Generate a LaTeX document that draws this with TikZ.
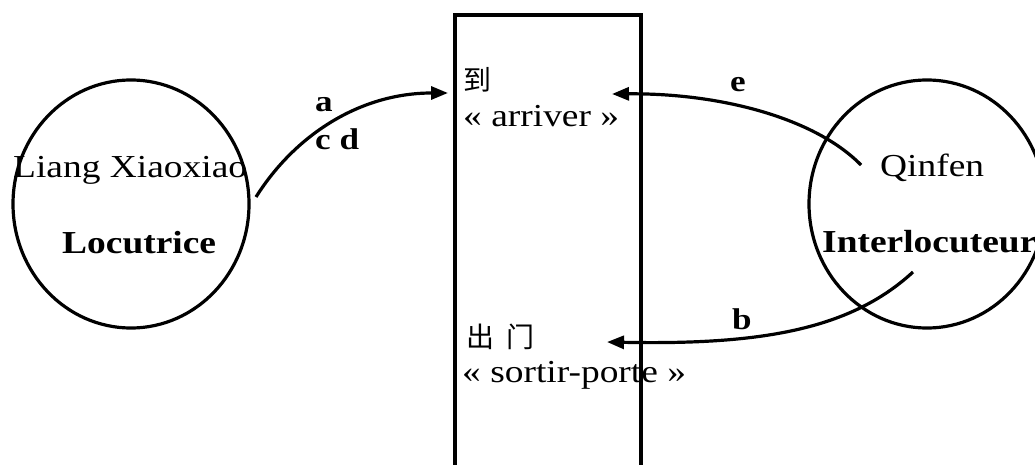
\documentclass[tikz,border=0pt]{standalone}
\usepackage{fontspec}
\setmainfont{Liberation Serif}[FakeStretch=1.17]
\newfontfamily\cjk{Noto Sans CJK SC}
\usetikzlibrary{arrows.meta,shapes.geometric}
\begin{document}
\begin{tikzpicture}[x=1pt,y=-1pt,
  txt/.style={anchor=base west,inner sep=0pt,font=\fontsize{32}{36}\selectfont},
  btxt/.style={txt,font=\fontsize{32}{36}\selectfont\bfseries},
  lbl/.style={anchor=base west,inner sep=0pt,font=\fontsize{30}{34}\selectfont\bfseries},
  zh/.style={anchor=base west,inner sep=0pt,font=\fontsize{28}{32}\selectfont\cjk},
  person/.style={ellipse,draw,line width=3.2pt,minimum width=236pt,minimum height=248pt,inner sep=0pt},
  arr/.style={line width=3.2pt,-{Triangle[length=17pt,width=13pt]}}]
\useasboundingbox (0,0) rectangle (1035,465);
\clip (0,0) rectangle (1035,465);
% central box
\node[draw,line width=3.6pt,minimum width=186pt,minimum height=480pt,inner sep=0pt,anchor=north west] (box) at (453,13) {};
% participants
\node[person] (loc) at (131,204) {};
\node[person] (int) at (927,204) {};
\node[txt] (liang) at (13,178) {Liang Xiaoxiao};
\node[btxt] (locu) at (62,253) {Locutrice};
\node[txt] (qinfen) at (880,177) {Qinfen};
\node[btxt] (inter) at (822,252) {Interlocuteur};
% words
\node[zh] (dao) at (463,91) {到};
\node[txt] (arriver) at (463,127) {« arriver »};
\node[zh] (chumen) at (466,347) {出\hspace{12pt}门};
\node[txt] (sortir) at (462,382) {« sortir-porte »};
% arrow end points
\coordinate (a0) at (256,197);
\coordinate (a1) at (448,93);
\coordinate (e0) at (861,165);
\coordinate (e1) at (612,94);
\coordinate (b0) at (913,272);
\coordinate (b1) at (607,342);
\draw[arr] (a0) .. controls (295,135) and (360,93) .. (a1);
\draw[arr] (e0) .. controls (815,118) and (720,93) .. (e1);
\draw[arr] (b0) .. controls (850,330) and (760,345) .. (b1);
% labels
\node[lbl] (la) at (315,112) {a};
\node[lbl] (lcd) at (315,150) {c d};
\node[lbl] (le) at (730,92) {e};
\node[lbl] (lb) at (732,329) {b};
\end{tikzpicture}
\end{document}
